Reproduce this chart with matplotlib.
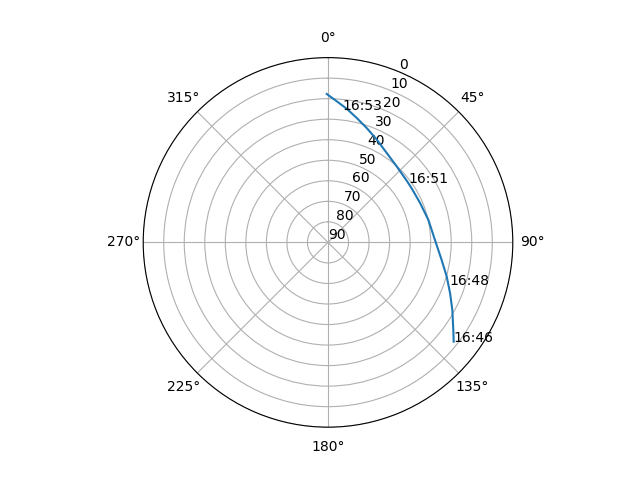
import numpy as np
import matplotlib
matplotlib.use("Agg")
import matplotlib.pyplot as plt

# satellite track: azimuth (deg) and elevation (deg)
azimuth = [128.3, 125.0, 118.5, 112.6, 106.1, 98.8, 88.7, 77.4, 67.0, 57.4,
           52.2, 42.1, 33.3, 25.4, 18.7, 13.0, 8.0, 3.5, -0.5]
elevation = [12.0, 15.5, 21.1, 25.6, 29.8, 34.0, 37.9, 39.9, 41.2, 41.5,
             41.3, 40.1, 37.9, 34.6, 31.2, 27.8, 24.3, 21.1, 17.7]

# time labels along the track
label_times = ["16:46", "16:48", "16:51", "16:53"]
label_az = [128.3, 109.3, 53.6, 6.2]
label_el = [12.0, 27.5, 41.3, 24.9]

fig = plt.figure(figsize=(6.4, 4.8), dpi=100)
ax = fig.add_subplot(111, projection='polar')
ax.set_theta_zero_location('N')
ax.set_theta_direction(-1)

ax.plot(np.radians(azimuth), elevation)
for t, a, e in zip(label_times, label_az, label_el):
    ax.text(np.radians(a), e, t)

ax.set_ylim(90, 0)
ax.set_yticks(range(0, 91, 10))

fig.savefig("out.png")
